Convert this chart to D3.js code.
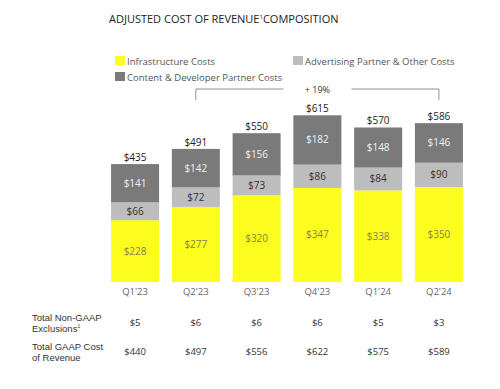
<!DOCTYPE html>
<html>
<head>
<meta charset="utf-8">
<script src="https://cdn.jsdelivr.net/npm/d3@7"></script>
<style>
  html, body { margin: 0; padding: 0; background: #fff; }
  svg { display: block; font-family: "Open Sans", "DejaVu Sans", sans-serif; }
</style>
</head>
<body>
<div id="chart"></div>
<script>
(function() {
	'use strict';

	// Quarterly adjusted cost of revenue ($M)
	const quarters = ["Q1'23", "Q2'23", "Q3'23", "Q4'23", "Q1'24", "Q2'24"];
	const infrastructure = [228, 277, 320, 347, 338, 350];
	const advertising = [66, 72, 73, 86, 84, 90];
	const content = [141, 142, 156, 182, 148, 146];
	const totals = [435, 491, 550, 615, 570, 586];
	const nonGaap = [5, 6, 6, 6, 5, 3];
	const gaapTotal = [440, 497, 556, 622, 575, 589];

	const seriesNames = ['Infrastructure Costs', 'Advertising Partner & Other Costs', 'Content & Developer Partner Costs'];
	const seriesKeys = ['infra', 'adv', 'content'];
	const colors = { infra: '#fcfc1e', adv: '#bdbdbd', content: '#7a7a7a' };
	const labelColors = { infra: '#85854a', adv: '#333', content: '#f2f2f2' };

	const width = 500;
	const height = 389;

	const svg = d3.select('#chart').append('svg')
		.attr('width', width)
		.attr('height', height);

	const x = d3.scaleBand()
		.domain(quarters)
		.range([105, 469])
		.paddingInner(0.21)
		.paddingOuter(0.1);

	const y = d3.scaleLinear()
		.domain([0, 650])
		.range([282, 105.8]);

	const rows = quarters.map((q, i) => ({
		quarter: q, infra: infrastructure[i], adv: advertising[i], content: content[i]
	}));
	const stacked = d3.stack().keys(seriesKeys)(rows);

	// Title
	const title = svg.append('text')
		.attr('x', 109)
		.attr('y', 23)
		.style('font-size', '11px')
		.style('fill', '#222');
	title.append('tspan').text('ADJUSTED COST OF REVENUE');
	title.append('tspan').attr('dy', -4).style('font-size', '6px').text('1');
	title.append('tspan').attr('dy', 4).text('COMPOSITION');

	// Legend
	const legendItems = [
		{ key: 'infra', x: 115, y: 56 },
		{ key: 'adv', x: 293, y: 56 },
		{ key: 'content', x: 115, y: 72 }
	];
	const li = svg.selectAll('.legend-item')
		.data(legendItems)
		.enter()
		.append('g')
		.attr('class', 'legend-item')
		.attr('transform', d => `translate(${d.x}, ${d.y})`);
	li.append('rect')
		.attr('width', 10)
		.attr('height', 9)
		.attr('fill', d => colors[d.key]);
	li.append('text')
		.attr('x', 12)
		.attr('y', 8.5)
		.style('font-size', '9.5px')
		.style('fill', '#555')
		.text(d => seriesNames[seriesKeys.indexOf(d.key)]);

	// Bars
	stacked.forEach(layer => {
		const key = layer.key;
		const g = svg.append('g').attr('class', 'layer-' + key);
		g.selectAll('rect')
			.data(layer)
			.enter()
			.append('rect')
			.attr('x', d => x(d.data.quarter))
			.attr('y', d => y(d[1]))
			.attr('width', x.bandwidth())
			.attr('height', d => y(d[0]) - y(d[1]))
			.attr('fill', colors[key]);
		g.selectAll('text')
			.data(layer)
			.enter()
			.append('text')
			.attr('x', d => x(d.data.quarter) + x.bandwidth() / 2)
			.attr('y', d => (y(d[0]) + y(d[1])) / 2)
			.attr('dy', '0.35em')
			.attr('text-anchor', 'middle')
			.style('font-size', '10px')
			.style('fill', labelColors[key])
			.text(d => '$' + (d[1] - d[0]));
	});

	// Totals above bars
	svg.selectAll('.total')
		.data(quarters)
		.enter()
		.append('text')
		.attr('class', 'total')
		.attr('x', d => x(d) + x.bandwidth() / 2)
		.attr('y', (d, i) => y(totals[i]) - 3)
		.attr('text-anchor', 'middle')
		.style('font-size', '10px')
		.style('fill', '#222')
		.text((d, i) => '$' + totals[i]);

	// Category labels
	svg.selectAll('.cat')
		.data(quarters)
		.enter()
		.append('text')
		.attr('class', 'cat')
		.attr('x', d => x(d) + x.bandwidth() / 2)
		.attr('y', 295)
		.attr('text-anchor', 'middle')
		.style('font-size', '9.5px')
		.style('fill', '#666')
		.text(d => d);

	// Growth bracket Q2'23 -> Q2'24
	const bx1 = x(quarters[1]) + x.bandwidth() / 2;
	const bx2 = x(quarters[5]) + x.bandwidth() / 2;
	const by = 89;
	const bmid = (bx1 + bx2) / 2;
	const bracket = svg.append('g')
		.attr('fill', 'none')
		.attr('stroke', '#777')
		.attr('stroke-width', 0.8);
	bracket.append('path').attr('d', `M${bx1},100V${by}H${bmid - 34}`);
	bracket.append('path').attr('d', `M${bmid + 34},${by}H${bx2}V100`);
	svg.append('text')
		.attr('x', bmid)
		.attr('y', by + 3.5)
		.attr('text-anchor', 'middle')
		.style('font-size', '9px')
		.style('fill', '#333')
		.text('+ 19%');

	// Table below the chart
	const tableRows = [
		{ lines: ['Total Non-GAAP', 'Exclusions'], sup: true, values: nonGaap, y: 323 },
		{ lines: ['Total GAAP Cost', 'of Revenue'], sup: false, values: gaapTotal, y: 352 }
	];
	tableRows.forEach(row => {
		const t = svg.append('g')
			.style('font-family', '"Liberation Sans", Arial, sans-serif')
			.style('font-size', '9.5px')
			.style('fill', '#333');
		t.append('text').attr('x', 32).attr('y', row.y - 2.5).text(row.lines[0]);
		const second = t.append('text').attr('x', 32).attr('y', row.y + 8.5);
		second.append('tspan').text(row.lines[1]);
		if (row.sup) {
			second.append('tspan').attr('dy', -4).style('font-size', '5px').text('1');
		}
		svg.selectAll(null)
			.data(quarters)
			.enter()
			.append('text')
			.attr('x', d => x(d) + x.bandwidth() / 2)
			.attr('y', row.y)
			.attr('dy', '0.35em')
			.attr('text-anchor', 'middle')
			.style('font-size', '9.5px')
			.style('fill', '#333')
			.text((d, i) => '$' + row.values[i]);
	});
})();
</script>
</body>
</html>
